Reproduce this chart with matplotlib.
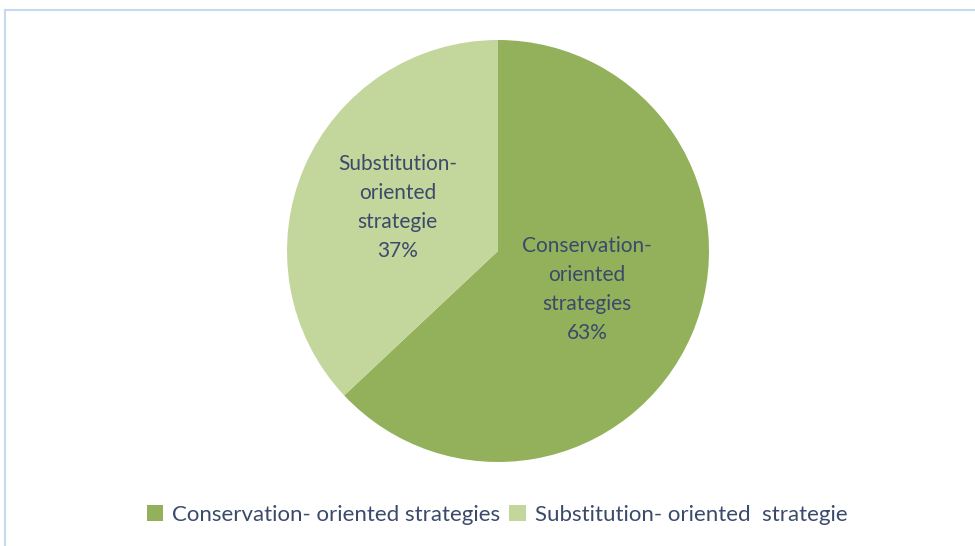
import numpy as np
import matplotlib.pyplot as plt
from matplotlib.lines import Line2D
from matplotlib.patches import Patch

# data
labels = ["Conservation- oriented strategies", "Substitution- oriented  strategie"]
inner_labels = ["Conservation-\noriented\nstrategies", "Substitution-\noriented\nstrategie"]
shares = [63, 37]
colors = ["#93b15a", "#c3d69b"]
text_color = "#3b4a6b"

plt.rcParams['font.family'] = ['Lato', 'DejaVu Sans']

W, H = 975, 546
fig = plt.figure(figsize=(W / 100, H / 100), dpi=100)

# pie centre / radius in pixels
cx, cy, r = 498, 251, 211
ax = fig.add_axes([(cx - r) / W, (H - cy - r) / H, 2 * r / W, 2 * r / H])

wedges = ax.pie(shares, colors=colors, startangle=90, counterclock=False,
                radius=1, wedgeprops=dict(linewidth=0))[0]
ax.set_xlim(-1, 1)
ax.set_ylim(-1, 1)
ax.set_aspect('equal')
ax.axis('off')

# labels inside the slices
dist = [0.46, 0.52]
for w, txt, s, d in zip(wedges, inner_labels, shares, dist):
    ang = np.deg2rad((w.theta1 + w.theta2) / 2)
    ax.text(d * np.cos(ang), d * np.sin(ang), f"{txt}\n{s}%", ha='center', va='center',
            fontsize=15, color=text_color, linespacing=1.55)

# frame lines (top and left)
fig.add_artist(Line2D([5 / W, 1], [1 - 10 / H, 1 - 10 / H], color="#c6d9f1", lw=1.5))
fig.add_artist(Line2D([5 / W, 5 / W], [0, 1 - 10 / H], color="#c6d9f1", lw=1.5))

handles = [Patch(facecolor=c, edgecolor='none') for c in colors]
fig.legend(handles, labels, loc='center', bbox_to_anchor=(497 / W, 1 - 515 / H), ncol=2,
           frameon=False, fontsize=16, handlelength=0.75, handleheight=0.75,
           handletextpad=0.4, columnspacing=0.4, labelcolor=text_color)

fig.savefig("out.png", dpi=100)
